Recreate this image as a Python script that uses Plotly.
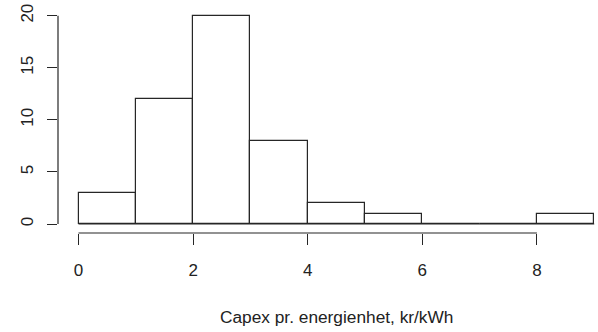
import plotly.graph_objects as go

# Histogram of capex per energy unit (kr/kWh)
bin_edges = [0, 1, 2, 3, 4, 5, 6, 7, 8, 9]
counts = [3, 12, 20, 8, 2, 1, 0, 0, 1]
x_ticks = [0, 2, 4, 6, 8]
y_ticks = [0, 5, 10, 15, 20]
x_title = "Capex pr. energienhet, kr/kWh"

mids = [(a + b) / 2 for a, b in zip(bin_edges[:-1], bin_edges[1:])]
widths = [b - a for a, b in zip(bin_edges[:-1], bin_edges[1:])]

FONT = "Liberation Sans, Arial, sans-serif"
INK = "#262626"

fig = go.Figure()
fig.add_trace(go.Bar(
    x=mids, y=counts, width=widths,
    marker=dict(color="white", line=dict(color=INK, width=1.2)),
    hoverinfo="skip",
))

# baseline under empty bins (outline of zero-height bars)
fig.add_shape(type="line", x0=bin_edges[0], x1=bin_edges[-1], y0=0, y1=0,
              xref="x", yref="y", line=dict(color=INK, width=1.2))
# axis lines spanning only the tick range
fig.add_shape(type="line", x0=0, x1=0, xref="paper", y0=y_ticks[0], y1=y_ticks[-1],
              yref="y", line=dict(color=INK, width=1.2))
fig.add_shape(type="line", x0=x_ticks[0], x1=x_ticks[-1], xref="x", y0=0, y1=0,
              yref="paper", line=dict(color=INK, width=1.2))

fig.add_annotation(text=x_title, x=(bin_edges[0] + bin_edges[-1]) / 2, xref="x",
                   y=-0.372, yref="paper", showarrow=False, yanchor="middle",
                   font=dict(family=FONT, size=17.3, color="#222"))

fig.update_layout(
    width=598, height=332,
    margin=dict(l=58, r=0, t=7, b=99),
    paper_bgcolor="white", plot_bgcolor="white",
    showlegend=False, bargap=0,
    font=dict(family=FONT, size=17, color="#222"),
    xaxis=dict(range=[-0.358, 9.066], tickvals=x_ticks, ticks="outside",
               ticklen=11, tickwidth=1.2, tickcolor=INK, showline=False,
               showgrid=False, zeroline=False, ticklabelstandoff=11),
    yaxis=dict(range=[-0.864, 20.835], tickvals=y_ticks, ticks="outside",
               ticklen=10, tickwidth=1.2, tickcolor=INK, showline=False,
               showgrid=False, zeroline=False, tickangle=-90,
               ticklabelstandoff=7),
)

fig.write_html("out.html")
